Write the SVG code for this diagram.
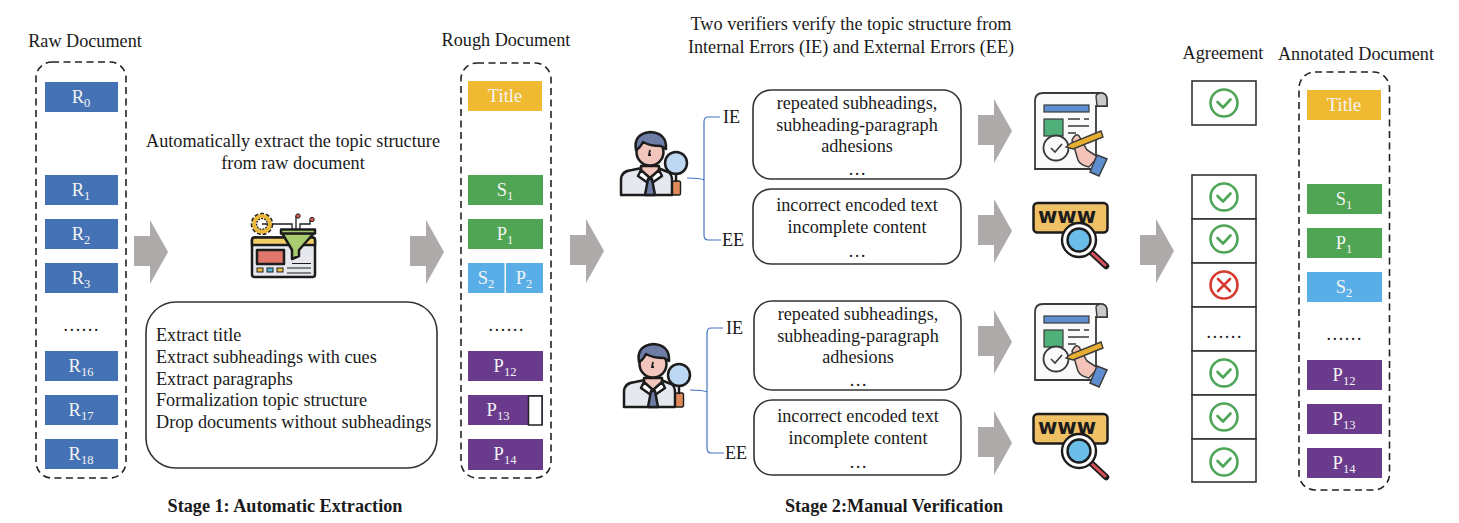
<svg xmlns="http://www.w3.org/2000/svg" xmlns:xlink="http://www.w3.org/1999/xlink" width="1459" height="523" viewBox="0 0 1459 523">
<style>
text{font-family:"Liberation Serif","Times New Roman",serif;font-size:18.2px;fill:#1a1a1a}
.m{text-anchor:middle}
.w{fill:#f4f4f4;font-size:18.5px;text-anchor:middle}
.sub{font-size:12.5px}
.b{font-weight:bold}
.dash{fill:none;stroke:#222;stroke-width:1.6;stroke-dasharray:7 4.5}
.blue{fill:#4472b4}.gold{fill:#efba32}.green{fill:#4fa553}.sky{fill:#5aaee8}.purple{fill:#6a3a8c}
.round{fill:#fff;stroke:#333;stroke-width:1.6}
.arrow{fill:#aeaaaa}
.cell{fill:#fff;stroke:#333;stroke-width:1.6}
.brace{fill:none;stroke:#4472c4;stroke-width:1.2}
.ok{fill:none;stroke:#4fa658;stroke-width:2.6}
.no{fill:none;stroke:#d63a30;stroke-width:2.6}
.k{stroke:#1c1c1c;stroke-width:2.5;stroke-linejoin:round;stroke-linecap:round}
</style>
<defs>
<polygon id="arr" class="arrow" points="0,16 16,16 16,0 34,32 16,64 16,46 0,46"/>
<g id="check"><circle r="13.5" class="ok"/><path d="M-6.5,-1 L-1,4.5 L6.5,-3.5" class="ok" stroke-linecap="round" stroke-linejoin="round"/></g>
<g id="cross"><circle r="13.5" class="no"/><path d="M-6,-6 L6,6 M6,-6 L-6,6" class="no" stroke-linecap="round"/></g>
<g id="person">
<path class="k" d="M621,195 V180 Q621,171 632,170 L642,168 H658 L668,172 Q672,174 672,180 V195 Z" fill="#e6e8f0"/>
<path class="k" d="M641,166 V172 L650,178 L659,172 V166 Z" fill="#f2c6bc"/>
<path class="k" d="M641,170 L650,178 L659,170 L662,176 L652,183 H648 L638,176 Z" fill="#fff" stroke-width="1.800"/>
<path class="k" d="M648,179 H652 L655,195 H645 Z" fill="#6d7da6" stroke-width="1.200"/>
<circle class="k" cx="650" cy="152" r="13.500" fill="#f2c6bc"/>
<path class="k" d="M636,150 Q633,134 650,132 Q667,133 666,149 L661,146 Q650,146 643,142 Q640,148 636,150 Z" fill="#6d7da6"/>
<path d="M650,150 L649,155 H651" stroke="#1c1c1c" stroke-width="1.800" fill="none"/>
<rect x="672.500" y="181" width="8" height="14" rx="1.500" fill="#e08a5c" stroke="#1c1c1c" stroke-width="1.400"/>
<circle class="k" cx="676" cy="163" r="11" fill="#bcd8f2"/>
<path class="k" d="M676,174 V181" fill="none"/>
</g>
<g id="paper">
<path d="M1043,93 H1100 Q1107,93 1107,100 V106 H1096 V162 Q1096,169 1090,169 H1035 V101 Q1035,93 1043,93 Z" fill="#fafafa" stroke="#3a3a3a" stroke-width="1.800"/>
<path d="M1096,96 Q1097,93 1101,93 Q1107,93 1107,100 V106 H1097 Z" fill="#c9c9c9" stroke="#3a3a3a" stroke-width="1.400"/>
<rect x="1044" y="105" width="45" height="7" fill="#5f8ed0" stroke="#3a3a3a" stroke-width="1.200"/>
<rect x="1044" y="119" width="19" height="17" fill="#4fb07a" stroke="#3a3a3a" stroke-width="1.200"/>
<path d="M1068,119 H1080 M1084,119 H1089 M1068,126 H1089 M1068,133 H1076" stroke="#3a3a3a" stroke-width="1.300" fill="none"/>
<circle cx="1056" cy="148" r="12.500" fill="#fafafa" stroke="#3a3a3a" stroke-width="1.800"/>
<path d="M1051,148 L1055,152 L1062,144" fill="none" stroke="#3a3a3a" stroke-width="1.600"/>
<path d="M1072,140 Q1076,132 1079,136 L1087,150 L1098,157 L1089,167 Q1080,165 1078,160 Z" fill="#f4c4ba" stroke="#3a3a3a" stroke-width="1.500"/>
<path d="M1066,147 L1071,143 L1101,131 L1103,137 L1073,149 Z" fill="#e8ae32" stroke="#3a3a3a" stroke-width="1.400"/>
<path d="M1097,155 L1107,159 L1099,176 L1090,172 Z" fill="#5f8ed0" stroke="#3a3a3a" stroke-width="1.500"/>
</g>
<g id="www">
<rect class="k" x="1033.500" y="203" width="74" height="29.500" rx="4" fill="#f0c066" stroke-width="2.800"/>
<text x="1067" y="223" text-anchor="middle" style="font-family:'DejaVu Sans',sans-serif;font-weight:bold;font-size:21px;fill:#1c1c1c">www</text>
<path d="M1090,251 L1106,266" stroke="#1c1c1c" stroke-width="6.500" stroke-linecap="round"/>
<path d="M1092,253 L1105,265" stroke="#d9505a" stroke-width="3" stroke-linecap="round"/>
<circle cx="1079" cy="240" r="17" fill="#fff" stroke="#1c1c1c" stroke-width="2.400"/>
<circle cx="1079" cy="240" r="11.500" fill="#6cbcea" stroke="#1c1c1c" stroke-width="2.400"/>
</g>
</defs>

<g id="connectors">
<use xlink:href="#arr" href="#arr" x="134" y="220"/>
<use xlink:href="#arr" href="#arr" x="410" y="220"/>
<use xlink:href="#arr" href="#arr" x="570" y="219"/>
<use xlink:href="#arr" href="#arr" x="978" y="99"/>
<use xlink:href="#arr" href="#arr" x="978" y="199"/>
<use xlink:href="#arr" href="#arr" x="978" y="310"/>
<use xlink:href="#arr" href="#arr" x="978" y="411"/>
<use xlink:href="#arr" href="#arr" x="1140" y="219"/>
<path class="brace" d="M687,178 Q700,178 704,180 V122 Q704,117 708,117 H720 M704,176 V235 Q704,240 708,240 H721"/>
<path class="brace" d="M690,390 Q703,390 707,392 V333 Q707,328 711,328 H723 M707,388 V448 Q707,453 711,453 H724"/>
</g>

<g id="raw-document">
<text class="m" x="85" y="47">Raw Document</text>
<rect class="dash" x="36" y="62" width="90" height="416" rx="16"/>
<rect class="blue" x="45" y="82" width="73" height="30"/><text class="w" x="81" y="103">R<tspan class="sub" dy="4">0</tspan></text>
<rect class="blue" x="45" y="175" width="73" height="30"/><text class="w" x="81" y="196">R<tspan class="sub" dy="4">1</tspan></text>
<rect class="blue" x="45" y="219" width="73" height="30"/><text class="w" x="81" y="240">R<tspan class="sub" dy="4">2</tspan></text>
<rect class="blue" x="45" y="263" width="73" height="30"/><text class="w" x="81" y="284">R<tspan class="sub" dy="4">3</tspan></text>
<text class="m" x="81" y="331">……</text>
<rect class="blue" x="45" y="351" width="73" height="30"/><text class="w" x="81" y="372">R<tspan class="sub" dy="4">16</tspan></text>
<rect class="blue" x="45" y="395" width="73" height="30"/><text class="w" x="81" y="416">R<tspan class="sub" dy="4">17</tspan></text>
<rect class="blue" x="45" y="439" width="73" height="30"/><text class="w" x="81" y="460">R<tspan class="sub" dy="4">18</tspan></text>
</g>

<g id="extraction">
<text class="m" x="293" y="147">Automatically extract the topic structure</text>
<text class="m" x="293" y="169">from raw document</text>
<g id="filter-icon">
<path d="M262,224 H292 V231 M300,231 V224 H310 V220 M296,231 V216" fill="none" stroke="#1c1c1c" stroke-width="1.300"/>
<circle cx="262" cy="224" r="8" fill="none" stroke="#1c1c1c" stroke-width="6.500" stroke-dasharray="3 1.500"/>
<circle cx="262" cy="224" r="8" fill="none" stroke="#e8b63a" stroke-width="4"/>
<circle cx="298" cy="216" r="2.200" fill="#e05a5a" stroke="#1c1c1c"/>
<circle cx="312" cy="219.500" r="2.200" fill="#e05a5a" stroke="#1c1c1c"/>
<rect class="k" x="252" y="237.500" width="63" height="39.500" rx="2.500" fill="#e6e8ee" stroke-width="2"/>
<path class="k" d="M252,245 V240 Q252,237.500 255,237.500 H312 Q315,237.500 315,240 V245 Z" fill="#f2cf66" stroke-width="1.500"/>
<rect class="k" x="257" y="250" width="27" height="14" fill="#e0766c" stroke-width="1.500"/>
<rect x="257" y="268" width="6" height="4" fill="#f0c040" stroke="#1c1c1c"/><rect x="267" y="268" width="6" height="4" fill="#5ab8e0" stroke="#1c1c1c"/><rect x="277" y="268" width="6" height="4" fill="#f0c040" stroke="#1c1c1c"/>
<path d="M287,268 H311 M287,273 H311 M292,263.500 H311" stroke="#1c1c1c" stroke-width="1.200"/>
<path class="k" d="M282,233 L292,250 V259 L299,256 V250 L314,233 Z" fill="#a8cc6e" stroke-width="1.600"/>
<rect class="k" x="281" y="229.500" width="34" height="4" fill="#a8cc6e" stroke-width="1.600"/>
</g>
<rect class="round" x="146" y="302" width="291" height="166" rx="30"/>
<text x="156" y="341">Extract title</text>
<text x="156" y="363">Extract subheadings with cues</text>
<text x="156" y="385">Extract paragraphs</text>
<text x="156" y="406">Formalization topic structure</text>
<text x="156" y="428">Drop documents without subheadings</text>
</g>

<g id="rough-document">
<text class="m" x="506" y="46">Rough Document</text>
<rect class="dash" x="461" y="63" width="90" height="415" rx="16"/>
<rect class="gold" x="468" y="81" width="74" height="30"/><text class="w" x="505" y="102">Title</text>
<rect class="green" x="468" y="175" width="75" height="30"/><text class="w" x="505" y="196">S<tspan class="sub" dy="4">1</tspan></text>
<rect class="green" x="468" y="219" width="75" height="30"/><text class="w" x="505" y="240">P<tspan class="sub" dy="4">1</tspan></text>
<rect class="sky" x="468" y="263" width="36.500" height="30"/><text class="w" x="486" y="284">S<tspan class="sub" dy="4">2</tspan></text>
<rect class="sky" x="506" y="263" width="37" height="30"/><text class="w" x="524" y="284">P<tspan class="sub" dy="4">2</tspan></text>
<text class="m" x="506" y="331">……</text>
<rect class="purple" x="468" y="351" width="75" height="30"/><text class="w" x="505" y="372">P<tspan class="sub" dy="4">12</tspan></text>
<rect class="purple" x="468" y="395" width="75" height="30"/><text class="w" x="498" y="416">P<tspan class="sub" dy="4">13</tspan></text>
<rect x="528.500" y="396" width="13.500" height="29" fill="#fff" stroke="#222" stroke-width="1.500"/>
<rect class="purple" x="468" y="439" width="75" height="31"/><text class="w" x="505" y="460">P<tspan class="sub" dy="4">14</tspan></text>
</g>

<g id="verifiers-title">
<text class="m" x="851" y="30">Two verifiers verify the topic structure from</text>
<text class="m" x="851" y="53">Internal Errors (IE) and External Errors (EE)</text>
</g>

<g id="verifier-1">
<use xlink:href="#person" href="#person"/>
<text x="723" y="123">IE</text>
<text x="722" y="246">EE</text>
<rect class="round" x="753" y="90" width="208" height="89" rx="18"/>
<text class="m" x="857" y="109">repeated subheadings,</text>
<text class="m" x="857" y="131">subheading-paragraph</text>
<text class="m" x="857" y="152">adhesions</text>
<text class="m" x="857" y="175">…</text>
<rect class="round" x="753" y="189" width="208" height="75" rx="18"/>
<text class="m" x="857" y="211">incorrect encoded text</text>
<text class="m" x="857" y="233">incomplete content</text>
<text class="m" x="857" y="257">…</text>
<use xlink:href="#paper" href="#paper"/>
<use xlink:href="#www" href="#www"/>
</g>

<g id="verifier-2">
<use xlink:href="#person" href="#person" x="3" y="212"/>
<text x="726" y="334">IE</text>
<text x="725" y="459">EE</text>
<rect class="round" x="754" y="301" width="207" height="89" rx="18"/>
<text class="m" x="858" y="320">repeated subheadings,</text>
<text class="m" x="858" y="342">subheading-paragraph</text>
<text class="m" x="858" y="363">adhesions</text>
<text class="m" x="858" y="386">…</text>
<rect class="round" x="754" y="400" width="207" height="75" rx="18"/>
<text class="m" x="858" y="422">incorrect encoded text</text>
<text class="m" x="858" y="444">incomplete content</text>
<text class="m" x="858" y="468">…</text>
<use xlink:href="#paper" href="#paper" y="211"/>
<use xlink:href="#www" href="#www" y="211"/>
</g>

<g id="agreement">
<text class="m" x="1223" y="59">Agreement</text>
<rect class="cell" x="1192" y="81" width="64" height="44"/>
<use xlink:href="#check" href="#check" x="1224" y="103"/>
<rect class="cell" x="1192" y="175" width="64" height="44"/><use xlink:href="#check" href="#check" x="1224" y="197"/>
<rect class="cell" x="1192" y="219" width="64" height="44"/><use xlink:href="#check" href="#check" x="1224" y="239"/>
<rect class="cell" x="1192" y="263" width="64" height="44"/><use xlink:href="#cross" href="#cross" x="1224" y="285"/>
<rect class="cell" x="1192" y="307" width="64" height="44"/><text class="m" x="1224" y="338">……</text>
<rect class="cell" x="1192" y="351" width="64" height="44"/><use xlink:href="#check" href="#check" x="1224" y="373"/>
<rect class="cell" x="1192" y="395" width="64" height="44"/><use xlink:href="#check" href="#check" x="1224" y="417"/>
<rect class="cell" x="1192" y="439" width="64" height="43"/><use xlink:href="#check" href="#check" x="1224" y="462"/>
</g>

<g id="annotated-document">
<text class="m" x="1356" y="60">Annotated Document</text>
<rect class="dash" x="1299" y="72" width="90.500" height="418" rx="16"/>
<rect class="gold" x="1307" y="90" width="74" height="30"/><text class="w" x="1344" y="111">Title</text>
<rect class="green" x="1307" y="184" width="75" height="30"/><text class="w" x="1344" y="205">S<tspan class="sub" dy="4">1</tspan></text>
<rect class="green" x="1307" y="228" width="75" height="30"/><text class="w" x="1344" y="249">P<tspan class="sub" dy="4">1</tspan></text>
<rect class="sky" x="1307" y="272" width="75" height="30"/><text class="w" x="1344" y="293">S<tspan class="sub" dy="4">2</tspan></text>
<text class="m" x="1344" y="340">……</text>
<rect class="purple" x="1307" y="360" width="75" height="30"/><text class="w" x="1344" y="381">P<tspan class="sub" dy="4">12</tspan></text>
<rect class="purple" x="1307" y="404" width="75" height="30"/><text class="w" x="1344" y="425">P<tspan class="sub" dy="4">13</tspan></text>
<rect class="purple" x="1307" y="448" width="75" height="30"/><text class="w" x="1344" y="469">P<tspan class="sub" dy="4">14</tspan></text>
</g>

<g id="stage-labels">
<text class="m b" x="285" y="512">Stage 1: Automatic Extraction</text>
<text class="m b" x="894" y="512">Stage 2:Manual Verification</text>
</g>
</svg>
